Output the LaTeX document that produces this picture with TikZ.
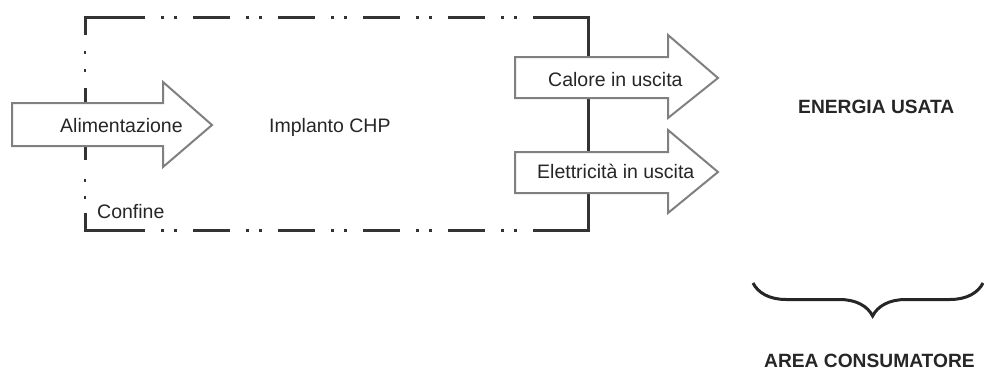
\documentclass[tikz,border=0pt]{standalone}
\usepackage{fontspec}
\setmainfont{Liberation Sans}
\usetikzlibrary{decorations.pathreplacing}
\begin{document}
\begin{tikzpicture}[x=1pt,y=-1pt,
  bound/.style={draw=black!80,line width=3pt},
  boundpat/.style={bound,dash pattern=on 37pt off 16pt on 3pt off 10pt on 3pt off 16pt},
  flowarrow/.style={draw=black!50,fill=white,line width=2pt,line join=miter},
  lbl/.style={anchor=base west,inner sep=0pt,font=\fontsize{19.5}{23}\selectfont,text=black!85},
  blbl/.style={lbl,font=\fontsize{19.2}{23}\selectfont\bfseries}]
\useasboundingbox (0,0) rectangle (984,370);
% boundary
\draw[bound] (85,35) -- (85,17) -- (145,17);
\draw[boundpat] (108,17) -- (533,17);
\draw[bound] (533,17) -- (588,17) -- (588,230) -- (533,230);
\draw[boundpat] (108,230) -- (533,230);
\draw[bound] (145,230) -- (85,230) -- (85,213);
\draw[bound,line width=2pt] (85,51) -- (85,54) (85,69) -- (85,72) (85,179) -- (85,182) (85,196) -- (85,199);
\draw[bound] (85,88) -- (85,160);
% arrows
\draw[flowarrow] (12,103) -- (163,103) -- (163,82) -- (212,125) -- (163,167) -- (163,146) -- (12,146) -- cycle;
\draw[flowarrow] (515,57) -- (668,57) -- (668,35) -- (718,78) -- (668,118) -- (668,98) -- (515,98) -- cycle;
\draw[flowarrow] (515,152) -- (668,152) -- (668,130) -- (718,172) -- (668,213) -- (668,193) -- (515,193) -- cycle;
% labels
\node[lbl] (alim) at (60,132) {Alimentazione};
\node[lbl] (chp) at (269,132) {Implanto CHP};
\node[lbl] (conf) at (97,218) {Confine};
\node[lbl] (cal) at (548,86) {Calore in uscita};
\node[lbl] (ele) at (537,178) {Elettricità in uscita};
\node[blbl] (en) at (798,113) {ENERGIA USATA};
\node[blbl] (area) at (764,367) {AREA CONSUMATORE};
% brace
\draw[line width=3pt,black!85,decorate,decoration={brace,amplitude=33pt,aspect=0.52,mirror}] (753,283) -- (983,283);
\end{tikzpicture}
\end{document}
